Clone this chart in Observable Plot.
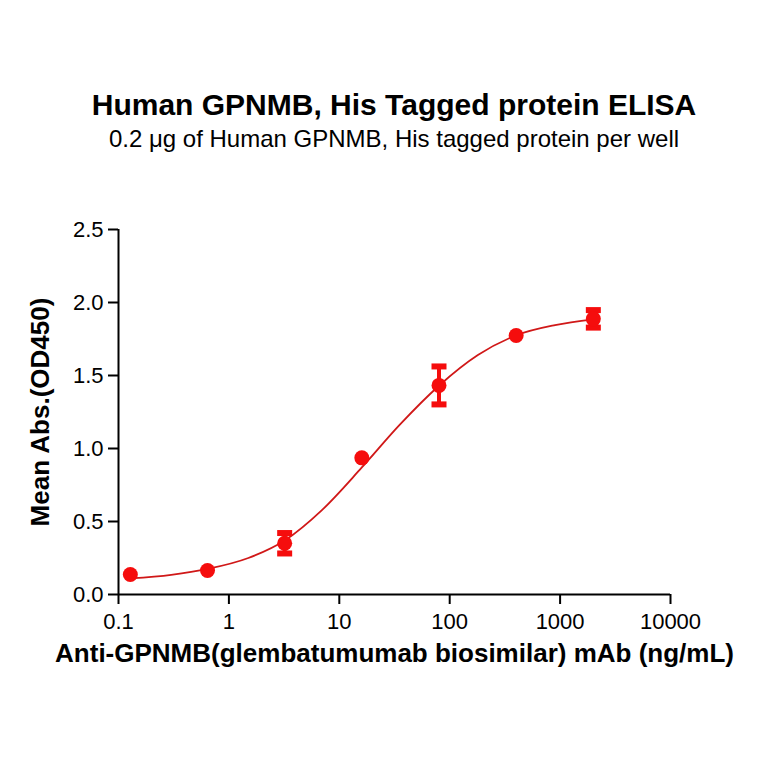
<!DOCTYPE html>
<html>
<head>
<meta charset="utf-8">
<script src="https://cdn.jsdelivr.net/npm/d3@7"></script>
<script src="https://cdn.jsdelivr.net/npm/@observablehq/plot@0.6"></script>
<style>
  html, body { margin: 0; padding: 0; background: #fff; }
  #wrap { width: 764px; height: 764px; position: relative; font-family: "Liberation Sans", Arial, sans-serif; color: #000; }
  #head { position: relative; width: 764px; height: 180px; }
  #title { position: absolute; left: 12px; width: 764px; top: 90px; line-height: 30px; font-size: 30px; font-weight: bold; text-align: center; }
  #subtitle { position: absolute; left: 12px; width: 764px; top: 127px; line-height: 24px; font-size: 24px; text-align: center; }
</style>
</head>
<body>
<div id="wrap">
  <div id="head">
    <div id="title">Human GPNMB, His Tagged protein ELISA</div>
    <div id="subtitle">0.2 μg of Human GPNMB, His tagged protein per well</div>
  </div>
  <div id="chart"></div>
</div>
<script>
// Measured data (ng/mL vs mean OD450)
const doses = [0.128, 0.64, 3.2, 16, 80, 400, 2000];
const means = [0.137, 0.164, 0.351, 0.936, 1.432, 1.774, 1.888];
const errs  = [0, 0, 0.07, 0, 0.13, 0, 0.06];

// Fitted curve
const curveX = [0.128, 0.3, 0.64, 1.5, 3.2, 7, 16, 35, 80, 180, 400, 900, 2000];
const curveY = [0.11, 0.135, 0.175, 0.25, 0.37, 0.58, 0.87, 1.16, 1.43, 1.64, 1.775, 1.845, 1.885];

const xTicks = [0.1, 1, 10, 100, 1000, 10000];
const yTicks = [0, 0.5, 1.0, 1.5, 2.0, 2.5];
const xLabel = "Anti-GPNMB(glembatumumab biosimilar) mAb (ng/mL)";
const yLabel = "Mean Abs.(OD450)";

const pts = doses.map((d, i) => ({x: d, y: means[i], e: errs[i]}));
const errPts = pts.filter(p => p.e > 0);
const curve = curveX.map((x, i) => ({x, y: curveY[i]}));

const capSymbol = {
  draw(context, size) {
    const w = Math.sqrt(size / Math.PI);
    context.moveTo(-w, 0);
    context.lineTo(w, 0);
  }
};

const red = "#f50d0d";
const curveRed = "#d01818";

const chart = Plot.plot({
  width: 764,
  height: 584,
  marginTop: 49,
  marginBottom: 170,
  marginLeft: 118,
  marginRight: 94,
  style: {fontFamily: '"Liberation Sans", Arial, sans-serif', fontSize: "22px", color: "#000", background: "#fff", overflow: "visible"},
  x: {type: "log", domain: [0.1, 10000], label: null},
  y: {domain: [0, 2.5], label: null},
  marks: [
    Plot.axisX({ticks: xTicks, tickFormat: d => String(d), tickSize: 10, tickPadding: 9, strokeWidth: 2, fontSize: 22, label: null}),
    Plot.axisY({ticks: yTicks, tickFormat: d3.format(".1f"), tickSize: 10, tickPadding: 5, strokeWidth: 2, fontSize: 22, label: null}),
    Plot.ruleX([0.1], {y1: 0, y2: 2.5, strokeWidth: 2, stroke: "#000"}),
    Plot.ruleY([0], {x1: 0.1, x2: 10000, strokeWidth: 2, stroke: "#000"}),
    Plot.line(curve, {x: "x", y: "y", stroke: curveRed, strokeWidth: 1.8, curve: "monotone-x"}),
    Plot.ruleX(errPts, {x: "x", y1: d => d.y - d.e, y2: d => d.y + d.e, stroke: red, strokeWidth: 4}),
    Plot.dot(errPts, {x: "x", y: d => d.y + d.e, symbol: capSymbol, r: 7.5, stroke: red, strokeWidth: 6}),
    Plot.dot(errPts, {x: "x", y: d => d.y - d.e, symbol: capSymbol, r: 7.5, stroke: red, strokeWidth: 6}),
    Plot.dot(pts, {x: "x", y: "y", r: 7.5, fill: red, stroke: null}),
    Plot.text([xLabel], {text: d => d, frameAnchor: "bottom", dy: 67, fontWeight: "bold", fontSize: 26, fill: "#000"}),
    Plot.text([yLabel], {text: d => d, frameAnchor: "left", textAnchor: "middle", dx: -78, rotate: -90, fontWeight: "bold", fontSize: 26, fill: "#000"})
  ]
});
document.getElementById("chart").appendChild(chart);
</script>
</body>
</html>
